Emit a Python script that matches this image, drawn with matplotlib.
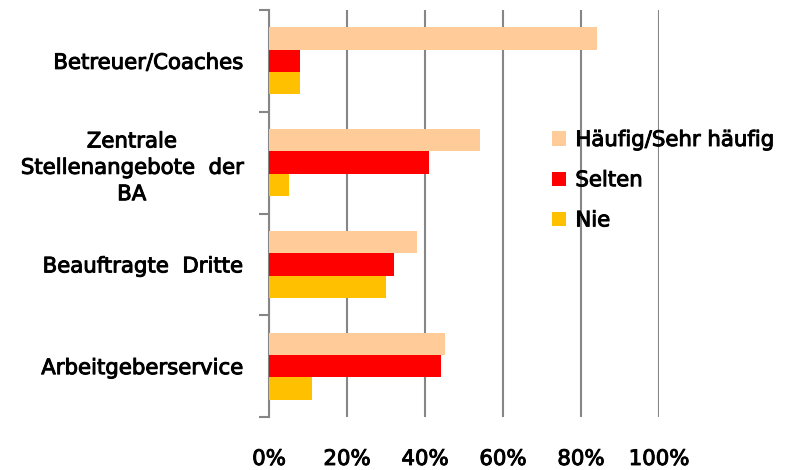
import numpy as np
import matplotlib.pyplot as plt
import matplotlib.patheffects as pe

# categories (top to bottom) and shares in percent
categories = ["Betreuer/Coaches", "Zentrale\nStellenangebote  der\nBA",
              "Beauftragte  Dritte", "Arbeitgeberservice"]
haeufig = [84, 54, 38, 45]
selten = [8, 41, 32, 44]
nie = [8, 5, 30, 11]
series_names = ["Häufig/Sehr häufig", "Selten", "Nie"]
colors = ["#FFCC99", "#FF0000", "#FFC000"]
xticks = [0, 20, 40, 60, 80, 100]

plt.rcParams['font.family'] = ['DejaVu Sans']
fs = 15.3
thick = [pe.withStroke(linewidth=0.7, foreground='black')]
fig = plt.figure(figsize=(7.95, 4.7), dpi=100)
ax = fig.add_axes([269 / 795, 53 / 470, 390 / 795, 407 / 470])

y = np.arange(len(categories))
h = 0.22
for i, (vals, name, c) in enumerate(zip([haeufig, selten, nie], series_names, colors)):
    ax.barh(y + (i - 1) * h, vals, height=h, color=c, label=name, zorder=3)

ax.set_ylim(len(categories) - 0.5, -0.5)
ax.set_xlim(0, 100)
ax.set_yticks(y)
ax.set_yticklabels(categories, fontsize=fs, ha='right', multialignment='center',
                   linespacing=1.4)
ax.tick_params(axis='y', which='major', length=0, pad=19)
ax.set_yticks(np.arange(len(categories) + 1) - 0.5, minor=True)
ax.tick_params(axis='y', which='minor', length=7, color='#868686', width=1.5)

ax.set_xticks(xticks)
ax.set_xticklabels([f"{v}%" for v in xticks], fontsize=fs)
ax.tick_params(axis='x', length=0, pad=23)
ax.grid(axis='x', color='#868686', linewidth=1.5, zorder=0)

for s in ['top', 'right', 'bottom']:
    ax.spines[s].set_visible(False)
ax.spines['left'].set_color('#868686')
ax.spines['left'].set_linewidth(1.5)

leg = ax.legend(loc='upper left', bbox_to_anchor=(552 / 795, 1 - 130 / 470),
                bbox_transform=fig.transFigure, frameon=False, prop={'size': fs},
                handlelength=0.65, borderpad=0, borderaxespad=0, handleheight=0.65,
                handletextpad=0.45, labelspacing=0.95)

for t in ax.get_xticklabels() + ax.get_yticklabels() + leg.get_texts():
    t.set_path_effects(thick)

fig.savefig("out.png", dpi=100)
